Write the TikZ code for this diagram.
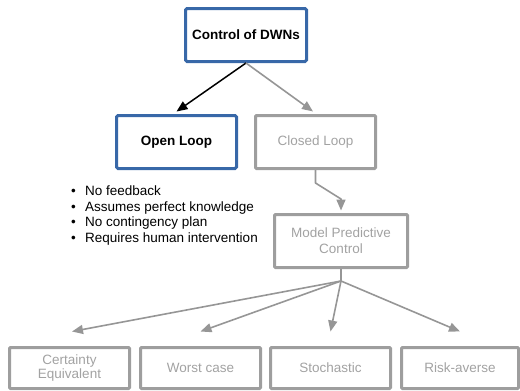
\documentclass[tikz,border=0pt]{standalone}
\usepackage{fontspec}
\setmainfont{Liberation Sans}
\usetikzlibrary{arrows.meta}
\definecolor{boxblue}{RGB}{56,104,168}
\definecolor{boxgray}{RGB}{158,158,158}
\definecolor{textgray}{RGB}{162,162,162}
\definecolor{arrowgray}{RGB}{150,150,150}
\tikzset{
  base/.style={font=\fontsize{13.5}{15.5}\selectfont, align=center, inner sep=0pt},
  activebox/.style={base, draw=boxblue, line width=3pt, rounded corners=1.5pt,
    minimum width=120pt, minimum height=53pt, text=black, font=\fontsize{13.5}{15.5}\selectfont\bfseries},
  inactivebox/.style={base, draw=boxgray, line width=3pt, rounded corners=1pt,
    minimum width=120pt, minimum height=53pt, text=textgray},
  blackarrow/.style={draw=black, line width=1.5pt, -{Triangle[length=11pt,width=9pt]}},
  grayarrow/.style={draw=arrowgray, line width=1.6pt, line join=round, -{Triangle[length=11pt,width=9pt]}},
  grayline/.style={draw=arrowgray, line width=1.6pt, line join=round},
  graylabel/.style={base, text=textgray},
}
\begin{document}
\begin{tikzpicture}[x=1pt, y=-1pt]
  \clip (0,0) rectangle (520,391);
  \useasboundingbox (0,0) rectangle (520,391);

  % top of the tree
  \node[activebox, minimum width=121pt] (root) at (246,35) {Control of DWNs};
  \node[activebox] (open) at (176.5,142) {Open Loop};
  \node[inactivebox] (closed) at (315.5,142) {Closed Loop};
  \node[inactivebox, minimum width=133pt, font=\fontsize{13.5}{16}\selectfont] (mpc) at (341,241) {Model Predictive\\Control};

  % properties of open-loop control
  \node[base, align=left, anchor=west] (props) at (71,215.5) {%
    \makebox[14pt][l]{•}No feedback\\
    \makebox[14pt][l]{•}Assumes perfect knowledge\\
    \makebox[14pt][l]{•}No contingency plan\\
    \makebox[14pt][l]{•}Requires human intervention};

  % MPC variants
  \tikzset{variant/.style={inactivebox, minimum height=41pt, font=\fontsize{13.5}{14}\selectfont}}
  \node[variant] (ce) at (69.5,368) {Certainty\\Equivalent};
  \node[variant] (wc) at (200.5,368) {Worst case};
  \node[variant] (st) at (330.5,368) {Stochastic};
  \node[variant, minimum width=117pt] (ra) at (460,368) {Risk-averse};

  % connectors
  \draw[blackarrow] (root.south) -- ([yshift=2.5pt]open.north);
  \draw[grayarrow] (root.south) -- ([xshift=-2.5pt,yshift=2.5pt]closed.north);

  \coordinate (cbend) at (315.5,183);
  \coordinate (mbend) at (341,199);
  \draw[grayarrow] (closed.south) -- (cbend) -- (mbend) -- ([yshift=2.5pt]mpc.north);

  \coordinate (fan) at (341,281);
  \draw[grayline] (mpc.south) -- (fan);
  \draw[grayarrow] (fan) -- ([xshift=2.5pt,yshift=14.5pt]ce.north);
  \draw[grayarrow] (fan) -- ([yshift=14.5pt]wc.north);
  \draw[grayarrow] (fan) -- ([yshift=14.5pt]st.north);
  \draw[grayarrow] (fan) -- ([yshift=14.5pt]ra.north);
\end{tikzpicture}
\end{document}
